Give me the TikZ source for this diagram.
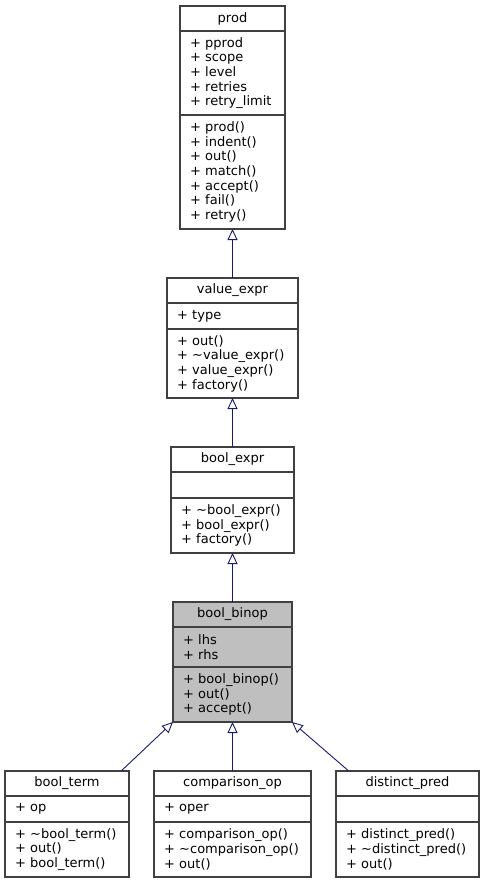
\documentclass[tikz,border=0pt]{standalone}
\usepackage{fontspec}
\setmainfont{DejaVu Sans}
\usepackage{tikz}
\usetikzlibrary{arrows.meta,positioning}
\usepackage{xcolor}
\definecolor{edgeblue}{RGB}{25,25,112}
\definecolor{boxgray}{RGB}{64,64,64}
\definecolor{basegray}{RGB}{191,191,191}
\tikzstyle{inherit} = [line width=0.9pt,-{Triangle[open,length=11pt,width=10pt]},color=edgeblue]

\begin{document}
\begin{tikzpicture}[
    x=1pt, y=-1pt,
    ctitle/.style={rectangle, draw=boxgray, line width=1.2pt, fill=white, inner sep=0pt, outer sep=0pt, minimum height=25pt, font=\fontsize{13}{14.7}\selectfont, text centered, anchor=north west},
    cpart/.style={rectangle, draw=boxgray, line width=1.2pt, fill=white, inner xsep=10pt, inner ysep=0pt, outer sep=0pt, align=left, font=\fontsize{13}{14.7}\selectfont, below=0pt of #1}
]
\useasboundingbox (0,0) rectangle (484,883);

% Top class
\node (prod) [ctitle, minimum width=105pt] at (180,6) {prod};
\node (prodattr) [cpart=prod, text width=85pt, minimum height=84pt] {+ pprod\\+ scope\\+ level\\+ retries\\+ retry\_limit};
\node (prodmeth) [cpart=prodattr, text width=85pt, minimum height=114pt] {+ prod()\\+ indent()\\+ out()\\+ match()\\+ accept()\\+ fail()\\+ retry()};

% Middle classes
\node (vexpr) [ctitle, minimum width=131pt] at (167,278) {value\_expr};
\node (vexprattr) [cpart=vexpr, text width=111pt, minimum height=26pt] {+ type};
\node (vexprmeth) [cpart=vexprattr, text width=111pt, minimum height=69pt] {+ out()\\+ \textasciitilde value\_expr()\\+ value\_expr()\\+ factory()};

\node (bexpr) [ctitle, minimum width=123pt] at (171,447) {bool\_expr};
\node (bexprattr) [cpart=bexpr, text width=103pt, minimum height=26pt] {};
\node (bexprmeth) [cpart=bexprattr, text width=103pt, minimum height=55pt] {+ \textasciitilde bool\_expr()\\+ bool\_expr()\\+ factory()};

% Base class
\node (binop) [ctitle, minimum width=119pt, fill=basegray] at (173,602) {bool\_binop};
\node (binopattr) [cpart=binop, text width=99pt, minimum height=40pt, fill=basegray] {+ lhs\\+ rhs};
\node (binopmeth) [cpart=binopattr, text width=99pt, minimum height=55pt, fill=basegray] {+ bool\_binop()\\+ out()\\+ accept()};

% Bottom level
\node (term) [ctitle, minimum width=124pt] at (5,771) {bool\_term};
\node (termattr) [cpart=term, text width=104pt, minimum height=26pt] {+ op};
\node (termmeth) [cpart=termattr, text width=104pt, minimum height=55pt] {+ \textasciitilde bool\_term()\\+ out()\\+ bool\_term()};

\node (compop) [ctitle, minimum width=157pt] at (154,771) {comparison\_op};
\node (compopattr) [cpart=compop, text width=137pt, minimum height=26pt] {+ oper};
\node (compopmeth) [cpart=compopattr, text width=137pt, minimum height=55pt] {+ comparison\_op()\\+ \textasciitilde comparison\_op()\\+ out()};

\node (dpred) [ctitle, minimum width=143pt] at (336,771) {distinct\_pred};
\node (dpredattr) [cpart=dpred, text width=123pt, minimum height=26pt] {};
\node (dpredmeth) [cpart=dpredattr, text width=123pt, minimum height=55pt] {+ distinct\_pred()\\+ \textasciitilde distinct\_pred()\\+ out()};

% Connections
\draw[inherit] (vexpr) -- (prodmeth);
\draw[inherit] (bexpr) -- (vexprmeth);
\draw[inherit] (binop) -- (bexprmeth);
\draw[inherit] (term.13) -- (binopmeth.south west);
\draw[inherit] (compop) -- (binopmeth);
\draw[inherit] (dpred.168) -- (binopmeth.south east);
\end{tikzpicture}
\end{document}
